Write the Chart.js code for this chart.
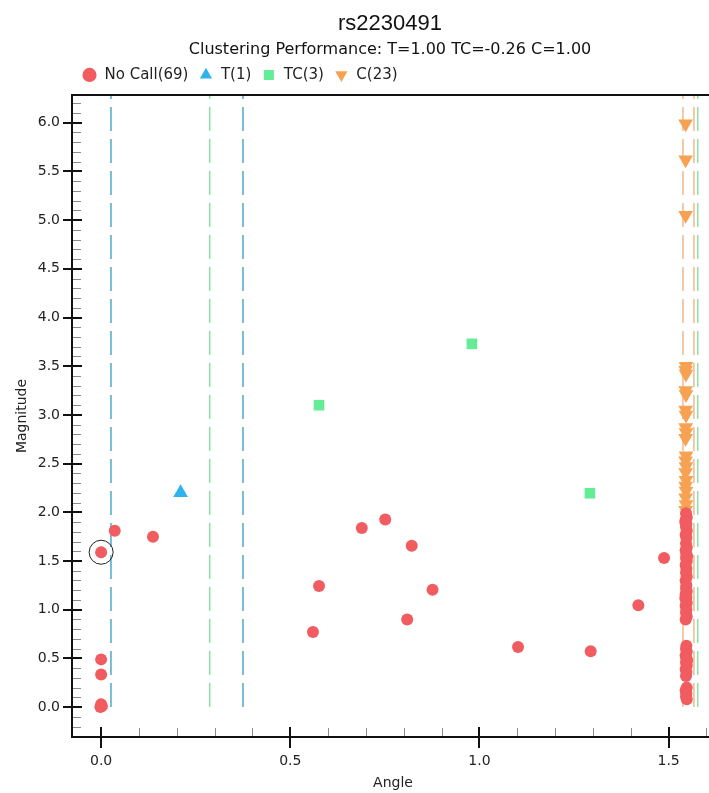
<!DOCTYPE html>
<html lang="en">
  <head>
    <meta charset="utf-8" />
    <title>rs2230491</title>
    <script src="https://cdn.jsdelivr.net/npm/chart.js@4.4.1/dist/chart.umd.min.js"></script>
    <style>
      html, body { margin: 0; padding: 0; background: #fff; overflow: hidden; }
      #wrap { width: 780px; height: 793px; }
    </style>
  </head>
  <body>
    <div id="wrap">
      <canvas id="cluster_chart" width="780" height="793"></canvas>
    </div>
    <script>
      // genotype clusters, [angle, magnitude]
      const noCallPoints = [
        [0.0, 1.59], [0.036, 1.81], [0.137, 1.75], [0.0, 0.49], [0.0, 0.335],
        [0.0, 0.03], [-0.002, 0.0], [0.002, 0.01],
        [0.689, 1.84], [0.751, 1.926], [0.821, 1.656], [0.576, 1.243], [0.876, 1.206],
        [0.809, 0.90], [0.56, 0.77], [1.102, 0.618], [1.294, 0.574], [1.488, 1.53], [1.42, 1.045],
        // the pile near 90 degrees
        [1.546, 1.99], [1.548, 1.95], [1.545, 1.92], [1.547, 1.88], [1.546, 1.85], [1.548, 1.81],
        [1.545, 1.77], [1.547, 1.74], [1.546, 1.68], [1.548, 1.64], [1.545, 1.61], [1.547, 1.57],
        [1.546, 1.53], [1.548, 1.50], [1.545, 1.46], [1.547, 1.42], [1.546, 1.38], [1.548, 1.34],
        [1.545, 1.30], [1.547, 1.25], [1.546, 1.22], [1.548, 1.19], [1.545, 1.16], [1.547, 1.13],
        [1.546, 1.10], [1.548, 1.07], [1.545, 1.04], [1.547, 1.00], [1.546, 0.97], [1.548, 0.93],
        [1.545, 0.90], [1.547, 0.63], [1.546, 0.60], [1.548, 0.57], [1.545, 0.53], [1.547, 0.50],
        [1.546, 0.46], [1.548, 0.43], [1.545, 0.39], [1.547, 0.36], [1.546, 0.32], [1.548, 0.20],
        [1.545, 0.17], [1.547, 0.14], [1.546, 0.11], [1.548, 0.08], [1.544, 1.90], [1.549, 1.55],
        [1.544, 1.12], [1.549, 0.48]
      ];
      const tPoints = [[0.21, 2.20]];
      const tcPoints = [[0.576, 3.10], [0.98, 3.73], [1.292, 2.196]];
      const cPoints = [
        [1.545, 5.99], [1.545, 5.62], [1.545, 5.05], [1.546, 3.50], [1.545, 3.46], [1.546, 3.42],
        [1.545, 3.25], [1.546, 3.21], [1.545, 3.05], [1.546, 3.00], [1.545, 2.87], [1.546, 2.82],
        [1.545, 2.76], [1.546, 2.58], [1.545, 2.53], [1.546, 2.47], [1.545, 2.41], [1.546, 2.33],
        [1.545, 2.27], [1.546, 2.22], [1.545, 2.15], [1.546, 2.08], [1.545, 2.02]
      ];
      const selectedPoint = [[0.0, 1.59]];

      // cluster boundaries (angle)
      const tBoundaryX = [0.026, 0.375];
      const tcBoundaryX = [0.287, 1.577];
      const cBoundaryX = [1.538, 1.567];

      const xTickValues = [0.0, 0.5, 1.0, 1.5];
      const yTickValues = [0.0, 0.5, 1.0, 1.5, 2.0, 2.5, 3.0, 3.5, 4.0, 4.5, 5.0, 5.5, 6.0];
      const X_MIN = -0.077, X_MAX = 1.62;
      const Y_MIN = -0.307, Y_MAX = 6.285;

      const FONT = "'DejaVu Sans', Verdana, sans-serif";

      function toXY(list) {
        return list.map((p) => ({ x: p[0], y: p[1] }));
      }

      function boundaryLines(xs, color) {
        return xs.map((x) => ({
          type: "line",
          data: [{ x: x, y: 0 }, { x: x, y: Y_MAX }],
          borderColor: color,
          borderWidth: 1.5,
          borderDash: [24, 8],
          pointRadius: 0,
          fill: false,
        }));
      }

      // inward minor ticks, crossing major ticks, frame
      const axisTicks = {
        id: "axisTicks",
        afterDraw(chart) {
          const ctx = chart.ctx;
          const a = chart.chartArea;
          const xs = chart.scales.x;
          const ys = chart.scales.y;
          ctx.save();
          ctx.strokeStyle = "#8c8c8c";
          ctx.lineWidth = 1;
          ctx.beginPath();
          for (let v = Math.ceil(ys.min * 10); v <= Math.floor(ys.max * 10); v++) {
            if (v % 5 === 0) continue;
            const py = Math.round(ys.getPixelForValue(v / 10)) + 0.5;
            ctx.moveTo(a.left, py);
            ctx.lineTo(a.left + 9, py);
          }
          for (let v = Math.ceil(xs.min * 10); v <= Math.floor(xs.max * 10); v++) {
            if (v % 5 === 0) continue;
            const px = Math.round(xs.getPixelForValue(v / 10)) + 0.5;
            ctx.moveTo(px, a.bottom);
            ctx.lineTo(px, a.bottom - 9);
          }
          ctx.stroke();

          ctx.strokeStyle = "#111";
          ctx.lineWidth = 2;
          ctx.beginPath();
          yTickValues.forEach((v) => {
            const py = Math.round(ys.getPixelForValue(v));
            ctx.moveTo(a.left - 9, py);
            ctx.lineTo(a.left + 10, py);
          });
          xTickValues.forEach((v) => {
            const px = Math.round(xs.getPixelForValue(v));
            ctx.moveTo(px, a.bottom - 10);
            ctx.lineTo(px, a.bottom + 11);
          });
          ctx.stroke();
          ctx.strokeRect(a.left, a.top, a.right - a.left, a.bottom - a.top);
          ctx.restore();
        },
      };

      const config = {
        type: "scatter",
        data: {
          datasets: [
            {
              label: "No Call(69)",
              data: toXY(noCallPoints),
              pointStyle: "circle",
              pointRadius: 6,
              backgroundColor: "rgb(240, 92, 96)",
              borderColor: "rgb(240, 92, 96)",
              borderWidth: 0,
            },
            {
              label: "T(1)",
              data: toXY(tPoints),
              pointStyle: "triangle",
              pointRadius: 8.5,
              backgroundColor: "rgb(45, 180, 236)",
              borderColor: "rgb(45, 180, 236)",
              borderWidth: 0,
            },
            {
              label: "TC(3)",
              data: toXY(tcPoints),
              pointStyle: "rect",
              pointRadius: 7.5,
              backgroundColor: "rgb(100, 236, 150)",
              borderColor: "rgb(100, 236, 150)",
              borderWidth: 0,
            },
            {
              label: "C(23)",
              data: toXY(cPoints),
              pointStyle: "triangle",
              pointRotation: 180,
              pointRadius: 8.5,
              backgroundColor: "rgb(246, 162, 82)",
              borderColor: "rgb(246, 162, 82)",
              borderWidth: 0,
            },
            {
              label: "selected",
              data: toXY(selectedPoint),
              pointStyle: "circle",
              pointRadius: 12,
              backgroundColor: "rgba(0, 0, 0, 0)",
              borderColor: "#222",
              borderWidth: 1,
            },
            ...boundaryLines(tBoundaryX, "rgb(80, 168, 205)"),
            ...boundaryLines(tcBoundaryX, "rgb(140, 222, 170)"),
            ...boundaryLines(cBoundaryX, "rgb(240, 186, 140)"),
          ],
        },
        options: {
          responsive: false,
          devicePixelRatio: 1,
          animation: false,
          layout: { padding: 0 },
          plugins: {
            tooltip: { enabled: false },
            title: {
              display: true,
              text: "rs2230491",
              color: "#111",
              font: { family: "'Liberation Sans', Arial, sans-serif", size: 22, weight: "normal" },
              padding: { top: 11, bottom: 0 },
            },
            subtitle: {
              display: true,
              text: "Clustering Performance: T=1.00 TC=-0.26 C=1.00",
              color: "#111",
              font: { family: FONT, size: 16, lineHeight: 1.0 },
              padding: { top: 4, bottom: 0 },
            },
            legend: {
              position: "top",
              align: "start",
              fullSize: false,
              labels: {
                usePointStyle: true,
                boxHeight: 10,
                padding: 10,
                color: "#222",
                font: { family: FONT, size: 15 },
                filter: (item) => item.datasetIndex < 4,
              },
            },
          },
          scales: {
            x: {
              type: "linear",
              min: X_MIN,
              max: X_MAX,
              afterBuildTicks: (s) => { s.ticks = xTickValues.map((v) => ({ value: v })); },
              afterFit: (s) => { s.height = 56; },
              grid: { display: false, drawTicks: false },
              border: { display: false },
              ticks: {
                padding: 16,
                color: "#222",
                font: { family: FONT, size: 14 },
                callback: (v) => Number(v).toFixed(1),
              },
              title: {
                display: true,
                text: "Angle",
                color: "#222",
                font: { family: FONT, size: 14 },
                padding: { top: 0, bottom: 1 },
              },
            },
            // empty strip between legend and frame
            xTop: {
              type: "linear",
              position: "top",
              display: true,
              afterFit: (s) => { s.height = 2.6; },
              grid: { display: false, drawTicks: false },
              border: { display: false },
              ticks: { display: false },
            },
            y: {
              type: "linear",
              min: Y_MIN,
              max: Y_MAX,
              afterBuildTicks: (s) => { s.ticks = yTickValues.map((v) => ({ value: v })); },
              afterFit: (s) => { s.width = 72; },
              grid: { display: false, drawTicks: false },
              border: { display: false },
              ticks: {
                padding: 12,
                color: "#222",
                font: { family: FONT, size: 14 },
                callback: (v) => Number(v).toFixed(1),
              },
              title: {
                display: true,
                text: "Magnitude",
                color: "#222",
                font: { family: FONT, size: 14 },
                padding: { top: 14, bottom: 0 },
              },
            },
            yRight: {
              type: "linear",
              position: "right",
              display: true,
              afterFit: (s) => { s.width = 66; },
              grid: { display: false, drawTicks: false },
              border: { display: false },
              ticks: { display: false },
            },
          },
        },
        plugins: [axisTicks],
      };

      const clusterChart = new Chart(document.getElementById("cluster_chart"), config);
    </script>
  </body>
</html>
